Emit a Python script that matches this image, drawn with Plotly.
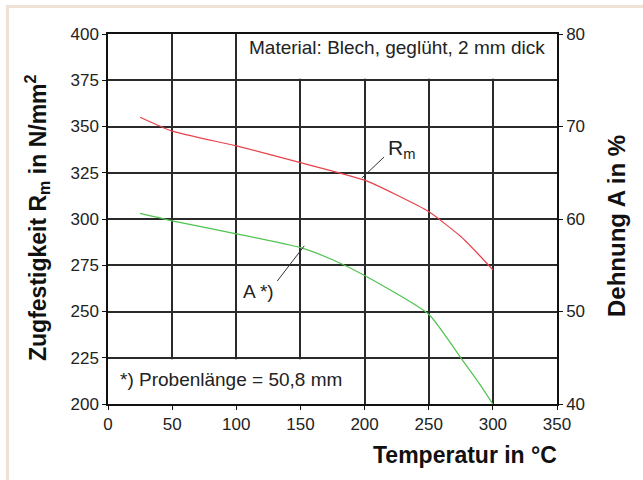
import plotly.graph_objects as go

# Data
temp_rm = [25, 50, 100, 150, 200, 225, 250, 275, 290, 300]
rm_vals = [355, 347.5, 339.5, 330.5, 321, 313, 304, 290.5, 280, 272.5]

temp_a = [25, 50, 100, 150, 175, 200, 250, 276, 290, 300]
a_vals = [60.6, 59.8, 58.4, 56.9, 55.6, 53.9, 49.7, 44.8, 42.1, 40.0]

x_ticks = [0, 50, 100, 150, 200, 250, 300, 350]
y_left_ticks = [200, 225, 250, 275, 300, 325, 350, 375, 400]
y_right_ticks = [40, 50, 60, 70, 80]

W, H = 643, 480
L, R, T, B = 108, 86, 34, 76
pw, ph = W - L - R, H - T - B

def px(xp):
    return (xp - L) / pw

def py(yp):
    return (H - B - yp) / ph

FONT = "Liberation Sans, Arial, sans-serif"
GRID = "#2a2a2a"

fig = go.Figure()
fig.add_trace(go.Scatter(x=temp_rm, y=rm_vals, mode="lines",
                         line=dict(color="#e8424a", width=1.2, shape="spline", smoothing=0.5),
                         showlegend=False, yaxis="y"))
fig.add_trace(go.Scatter(x=temp_a, y=a_vals, mode="lines",
                         line=dict(color="#4fc34f", width=1.2, shape="spline", smoothing=0.5),
                         showlegend=False, yaxis="y2"))

shapes = []
shapes.append(dict(type="rect", xref="x", yref="y", x0=101, x1=350, y0=375.8, y1=400,
                   fillcolor="white", line=dict(width=0), layer="between"))
shapes.append(dict(type="rect", xref="x", yref="y", x0=0, x1=199, y0=200, y1=224.2,
                   fillcolor="white", line=dict(width=0), layer="between"))
shapes.append(dict(type="line", xref="x", yref="y", x0=198, y0=322.2, x1=215.2, y1=333.5,
                   line=dict(color="#333", width=1)))
shapes.append(dict(type="line", xref="x", yref="y", x0=153, y0=285.5, x1=132, y1=266.5,
                   line=dict(color="#333", width=1)))
shapes.append(dict(type="rect", xref="paper", yref="paper",
                   x0=px(6), x1=px(9), y0=py(480), y1=py(5),
                   fillcolor="#efe1d4", line=dict(width=0), layer="below"))
shapes.append(dict(type="rect", xref="paper", yref="paper",
                   x0=px(6), x1=px(643), y0=py(8), y1=py(5),
                   fillcolor="#efe1d4", line=dict(width=0), layer="below"))

annotations = [
    dict(x=225, y=392.5, xref="x", yref="y", text="Material: Blech, geglüht, 2 mm dick",
         xanchor="center", yanchor="middle",
         showarrow=False, font=dict(family=FONT, size=19, color="#222")),
    dict(x=8, y=213, xref="x", yref="y", text="*) Probenlänge = 50,8 mm",
         xanchor="left", yanchor="middle", showarrow=False,
         font=dict(family=FONT, size=19, color="#222")),
    dict(x=216.5, y=338, xref="x", yref="y", text="R<sub>m</sub>", xanchor="left",
         yanchor="middle", showarrow=False, font=dict(family=FONT, size=21, color="#222")),
    dict(x=131, y=261, xref="x", yref="y", text="A *)", xanchor="right",
         yanchor="middle", showarrow=False, font=dict(family=FONT, size=19, color="#222")),
    dict(x=px(465), y=py(455), xref="paper", yref="paper", text="<b>Temperatur in °C</b>",
         xanchor="center", yanchor="middle",
         showarrow=False, font=dict(family=FONT, size=23, color="#111")),
    dict(x=px(37), y=py(218), xref="paper", yref="paper",
         text="<b>Zugfestigkeit R<sub>m</sub> in N/mm<sup>2</sup></b>", textangle=-90,
         xanchor="center", yanchor="middle",
         showarrow=False, font=dict(family=FONT, size=23, color="#111")),
    dict(x=px(616), y=py(226), xref="paper", yref="paper", text="<b>Dehnung A in %</b>",
         textangle=-90, xanchor="center", yanchor="middle",
         showarrow=False, font=dict(family=FONT, size=24, color="#111")),
]

fig.update_layout(
    width=W, height=H,
    margin=dict(l=L, r=R, t=T, b=B, pad=0),
    paper_bgcolor="white", plot_bgcolor="white",
    showlegend=False,
    font=dict(family=FONT, size=17, color="#222"),
    xaxis=dict(range=[0, 350], tickvals=x_ticks, ticktext=[str(v) for v in x_ticks],
               showgrid=True, gridcolor=GRID, gridwidth=1.5,
               showline=True, linecolor="#111", linewidth=1.5, mirror=True,
               ticks="outside", ticklen=4, tickcolor="#111", zeroline=False,
               tickfont=dict(family=FONT, size=17, color="#222")),
    yaxis=dict(range=[200, 400], tickvals=y_left_ticks, ticktext=[str(v) for v in y_left_ticks],
               showgrid=True, gridcolor=GRID, gridwidth=1.5,
               showline=True, linecolor="#111", linewidth=1.5,
               ticks="outside", ticklen=4, tickcolor="#111", zeroline=False,
               tickfont=dict(family=FONT, size=17, color="#222")),
    yaxis2=dict(range=[40, 80], tickvals=y_right_ticks, ticktext=[str(v) for v in y_right_ticks],
                overlaying="y", side="right", showgrid=False,
                showline=True, linecolor="#111", linewidth=1.5,
                ticks="outside", ticklen=4, tickcolor="#111", zeroline=False,
                tickfont=dict(family=FONT, size=17, color="#222")),
    shapes=shapes,
    annotations=annotations,
)

fig.write_html("out.html")
